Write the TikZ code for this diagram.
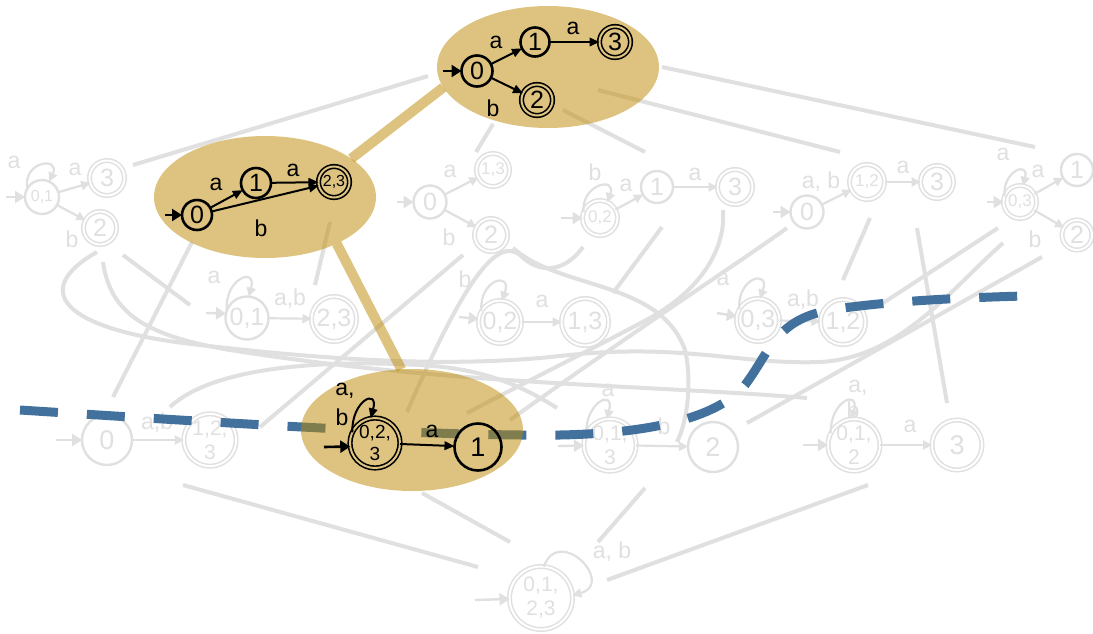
\documentclass[tikz,border=0pt]{standalone}
\usepackage{fontspec}
\setmainfont{Liberation Sans}
\usetikzlibrary{arrows.meta,shapes.geometric}
\definecolor{lite}{RGB}{224,224,224}
\definecolor{ochre}{RGB}{189,137,0}
\definecolor{steel}{RGB}{66,113,157}
\definecolor{goldbg}{RGB}{222,196,128}
\newcommand\szXL{\fontsize{27}{27}\selectfont}
\newcommand\szL{\fontsize{25}{25}\selectfont}
\newcommand\szM{\fontsize{23}{23}\selectfont}
\newcommand\szS{\fontsize{17}{17}\selectfont}
\newcommand\szT{\fontsize{16}{16}\selectfont}
\newcommand\szTwo{\fontsize{21}{24}\selectfont}
\begin{document}
\begin{tikzpicture}[x=1pt,y=1pt,
  every node/.style={inner sep=0pt,outer sep=0pt},
  gs/.style={circle,draw=lite,line width=2.4pt,text=lite,minimum size=#1},
  ga/.style={circle,draw=lite,double=white,double distance=2pt,line width=1.5pt,text=lite,minimum size=#1},
  bs/.style={circle,draw=black,line width=2.6pt,minimum size=#1},
  ba/.style={circle,draw=black,double=goldbg,double distance=2pt,line width=1.6pt,minimum size=#1},
  glab/.style={text=lite,font=\szM},
  blab/.style={text=black,font=\szM},
  ge/.style={draw=lite,line width=2.2pt,-{Triangle[length=9pt,width=9pt]}},
  be/.style={draw=black,line width=2pt,-{Triangle[length=10pt,width=8.5pt]}},
  gin/.style={draw=lite,line width=2.4pt,-{Triangle[length=10pt,width=12pt]}},
  bin/.style={draw=black,line width=2.6pt,-{Triangle[length=10pt,width=12pt]}},
  link/.style={draw=lite,line width=4pt},
  glink/.style={draw=ochre,draw opacity=0.5,line width=10pt},
  blob/.style={ellipse,fill=ochre,fill opacity=0.5,minimum width=222pt,minimum height=122pt},
]
\path[use as bounding box,fill=white] (0,0) rectangle (1093,-633);

% ---------- lattice links ----------
\draw[link] (133,-165) -- (428,-76);
\draw[link] (662,-67) -- (1035,-147);
\draw[link] (598,-90) -- (840,-152);
\draw[link] (563,-110) -- (645,-152);
\draw[link] (493,-124) -- (476,-152);
\draw[link] (192,-242) -- (113,-397);
\draw[link] (330,-222) -- (315,-285);
\draw[link] (123,-255) -- (190,-305);
\draw[link] (463,-255) -- (260,-427);
\draw[link] (662,-227) -- (613,-293);
\draw[link] (787,-228) .. controls (740,-262) and (650,-320) .. (510,-420);
\draw[link] (870,-218) -- (843,-280);
\draw[link] (917,-228) -- (947,-403);
\draw[link] (1042,-257) -- (747,-423);
\draw[link] (998,-228) -- (880,-305);
\draw[link] (97,-252) .. controls (30,-290) and (60,-330) .. (200,-345)
  .. controls (330,-360) and (450,-368) .. (560,-356)
  .. controls (680,-342) and (740,-365) .. (820,-362)
  .. controls (900,-358) and (950,-290) .. (1003,-243);
\draw[link] (103,-262) .. controls (110,-310) and (140,-335) .. (230,-350)
  .. controls (450,-385) and (650,-385) .. (807,-398);
\draw[link] (170,-407) .. controls (215,-365) and (330,-360) .. (420,-365)
  .. controls (470,-368) and (510,-378) .. (557,-408);
\draw[link] (583,-247) .. controls (565,-272) and (540,-275) .. (520,-255)
  .. controls (495,-235) and (460,-290) .. (407,-412);
\draw[link] (513,-248) .. controls (560,-290) and (660,-280) .. (685,-350)
  .. controls (692,-380) and (688,-420) .. (677,-442);
\draw[link] (723,-210) .. controls (726,-250) and (700,-290) .. (650,-318)
  .. controls (600,-345) and (520,-385) .. (467,-413);
\draw[link] (183,-485) -- (478,-567);
\draw[link] (422,-493) -- (510,-542);
\draw[link] (645,-488) -- (598,-542);
\draw[link] (868,-485) -- (607,-580);

% ---------- faded automata, first row ----------
% {0,1}
\node[gs=34,font=\szT] (a1s) at (42,-197) {0,1};
\node[ga=35,font=\szL] (a1x) at (107,-178) {3};
\node[ga=33,font=\szL] (a1y) at (100,-228) {2};
\coordinate (a1i) at (6,-197);
\draw[gin] (a1i) -- (a1s);
\draw[ge] (a1s.150) to[out=100,in=65,distance=28pt] (a1s.65);
\draw[ge] (a1s) -- (a1x);
\draw[ge] (a1s) -- (a1y);
\node[glab] (a1l1) at (14,-162) {a};
\node[glab] (a1l2) at (75,-169) {a};
\node[glab] (a1l3) at (72,-239) {b};
% {0}
\node[gs=33,font=\szL] (a2s) at (430,-202) {0};
\node[ga=33,font=\szS] (a2x) at (493,-170) {1,3};
\node[ga=33,font=\szL] (a2y) at (491,-235) {2};
\coordinate (a2i) at (397,-202);
\draw[gin] (a2i) -- (a2s);
\draw[ge] (a2s) -- (a2x);
\draw[ge] (a2s) -- (a2y);
\node[glab] (a2l1) at (450,-171) {a};
\node[glab] (a2l2) at (449,-237) {b};
% {0,2}
\node[ga=35,font=\szS] (a3s) at (600,-218) {0,2};
\node[gs=32,font=\szL] (a3x) at (657,-187) {1};
\node[ga=35,font=\szL] (a3y) at (735,-187) {3};
\coordinate (a3i) at (561,-218);
\draw[gin] (a3i) -- (a3s);
\draw[ge] (a3s.160) to[out=95,in=70,distance=28pt] (a3s.65);
\draw[ge] (a3s) -- (a3x);
\draw[ge] (a3x) -- (a3y);
\node[glab] (a3l1) at (595,-172) {b};
\node[glab] (a3l2) at (626,-185) {a};
\node[glab] (a3l3) at (695,-174) {a};
% {0} -> {1,2}
\node[gs=33,font=\szL] (a4s) at (807,-212) {0};
\node[ga=35,font=\szS] (a4x) at (867,-182) {1,2};
\node[ga=33,font=\szL] (a4y) at (937,-182) {3};
\coordinate (a4i) at (773,-212);
\draw[gin] (a4i) -- (a4s);
\draw[ge] (a4s) -- (a4x);
\draw[ge] (a4x) -- (a4y);
\node[glab] (a4l1) at (821,-182) {a, b};
\node[glab] (a4l2) at (903,-167) {a};
% {0,3}
\node[ga=33,font=\szS] (a5s) at (1020,-202) {0,3};
\node[gs=32,font=\szL] (a5x) at (1077,-170) {1};
\node[ga=30,font=\szL] (a5y) at (1077,-235) {2};
\coordinate (a5i) at (987,-202);
\draw[gin] (a5i) -- (a5s);
\draw[ge] (a5s.160) to[out=95,in=75,distance=26pt] (a5s.80);
\draw[ge] (a5s) -- (a5x);
\draw[ge] (a5s) -- (a5y);
\node[glab] (a5l1) at (1003,-154) {a};
\node[glab] (a5l2) at (1038,-171) {a};
\node[glab] (a5l3) at (1035,-239) {b};

% ---------- faded automata, second row ----------
\node[gs=43,font=\szL] (b1s) at (247,-318) {0,1};
\node[ga=45,font=\szL] (b1x) at (334,-319) {2,3};
\coordinate (b1i) at (206,-313);
\draw[gin] (b1i) -- (b1s.168);
\draw[ge] (b1s.160) to[out=95,in=75,distance=32pt] (b1s.85);
\draw[ge] (b1s) -- (b1x);
\node[glab] (b1l1) at (214,-277) {a};
\node[glab] (b1l2) at (290,-299) {a,b};

\node[ga=43,font=\szL] (b2s) at (500,-322) {0,2};
\node[ga=47,font=\szL] (b2x) at (585,-322) {1,3};
\coordinate (b2i) at (459,-317);
\draw[gin] (b2i) -- (b2s.172);
\draw[ge] (b2s.150) to[out=95,in=70,distance=32pt] (b2s.85);
\draw[ge] (b2s) -- (b2x);
\node[glab] (b2l1) at (465,-279) {b};
\node[glab] (b2l2) at (542,-301) {a};

\node[ga=43,font=\szL] (b3s) at (758,-320) {0,3};
\node[ga=45,font=\szL] (b3x) at (843,-322) {1,2};
\coordinate (b3i) at (717,-313);
\draw[gin] (b3i) -- (b3s.170);
\draw[ge] (b3s.150) to[out=95,in=70,distance=32pt] (b3s.85);
\draw[ge] (b3s) -- (b3x);
\node[glab] (b3l1) at (723,-279) {a};
\node[glab] (b3l2) at (803,-300) {a,b};

% ---------- faded automata, third row ----------
\node[gs=50,font=\szXL] (c1s) at (107,-440) {0};
\node[ga=51,font=\szTwo,align=center] (c1x) at (210,-440) {1,2,\\3};
\coordinate (c1i) at (56,-440);
\draw[gin] (c1i) -- (c1s);
\draw[ge] (c1s) -- (c1x);
\node[glab] (c1l1) at (157,-423) {a,b};

\node[ga=51,font=\szTwo,align=center] (c3s) at (610,-445) {0,1,\\3};
\node[gs=50,font=\szXL] (c3x) at (713,-447) {2};
\coordinate (c3i) at (558,-446);
\draw[gin] (c3i) -- (c3s);
\draw[ge] (c3s.155) to[out=92,in=75,distance=32pt] (c3s.97);
\draw[ge] (c3s) -- (c3x);
\node[glab] (c3l1) at (608,-390) {a};
\node[glab] (c3l2) at (664,-426) {b};

\node[ga=50,font=\szTwo,align=center] (c4s) at (854,-445) {0,1,\\2};
\node[ga=50,font=\szXL] (c4x) at (957,-445) {3};
\coordinate (c4i) at (803,-445);
\draw[gin] (c4i) -- (c4s);
\node[glab] (c4l1) at (858,-388) {a,};
\node[glab] (c4l2) at (853,-410) {b};
\draw[ge] (c4s.153) to[out=92,in=75,distance=32pt] (c4s.95);
\draw[ge] (c4s) -- (c4x);
\node[glab] (c4l3) at (910,-426) {a};

% ---------- faded automaton, bottom ----------
\node[ga=63,font=\fontsize{21}{24}\selectfont,align=center] (d) at (541,-598) {0,1,\\2,3};
\coordinate (di) at (475,-600);
\draw[gin] (di) -- (d);
\draw[ge] (d.85) to[out=70,in=15,distance=45pt] (d.5);
\node[glab] (dl1) at (612,-552) {a, b};

% ---------- dashed frontier ----------
\draw[steel,line width=9pt,dash pattern=on 38pt off 29pt]
  (20,-410) .. controls (300,-428) and (450,-436) .. (560,-435)
  .. controls (660,-433) and (720,-415) .. (745,-385)
  .. controls (770,-352) and (775,-320) .. (830,-310)
  .. controls (880,-302) and (950,-298) .. (1024,-296);

% ---------- highlighted regions ----------
\node[blob] (e1) at (548,-67) {};
\node[blob] (e2) at (265,-197) {};
\node[blob] (e3) at (412,-430) {};
\draw[glink] (e2.24) -- (e1.191);
\draw[glink] (e2.327) -- (e3.100);

% ---------- highlighted automata ----------
\node[bs=31,font=\szL] (t0) at (477,-71) {0};
\node[bs=29,font=\szL] (t1) at (535,-42) {1};
\node[ba=31,font=\szL] (t3) at (615,-42) {3};
\node[ba=31,font=\szL] (t2) at (537,-100) {2};
\coordinate (ti) at (443,-71);
\draw[bin] (ti) -- (t0);
\draw[be] (t0) -- (t1);
\draw[be] (t1) -- (t3);
\draw[be] (t0) -- (t2);
\node[blab] (tl1) at (496,-42) {a};
\node[blab] (tl2) at (573,-28) {a};
\node[blab] (tl3) at (493,-108) {b};

\node[bs=30,font=\szL] (m0) at (197,-215) {0};
\node[bs=30,font=\szL] (m1) at (256,-183) {1};
\node[ba=31,font=\szT] (m2) at (334,-182) {2,3};
\coordinate (mi) at (165,-215);
\draw[bin] (mi) -- (m0);
\draw[be] (m0) -- (m1);
\draw[be] (m1) -- (m2);
\draw[be] (m0) -- (m2);
\node[blab] (ml1) at (216,-184) {a};
\node[blab] (ml2) at (293,-170) {a};
\node[blab] (ml3) at (261,-228) {b};

\node[ba=50,fill=goldbg,font=\fontsize{19}{22}\selectfont,align=center] (c2s) at (375,-443) {0,2,\\3};
\node[bs=47,font=\szXL] (c2x) at (478,-447) {1};
\coordinate (c2i) at (324,-447);
\draw[bin] (c2i) -- (c2s.188);
\draw[be] (c2s.155) to[out=92,in=75,distance=32pt] (c2s.100);
\draw[be] (c2s) -- (c2x);
\node[blab] (c2l1) at (345,-391) {a,};
\node[blab] (c2l2) at (342,-417) {b};
\node[blab] (c2l3) at (432,-431) {a};
\end{tikzpicture}
\end{document}
